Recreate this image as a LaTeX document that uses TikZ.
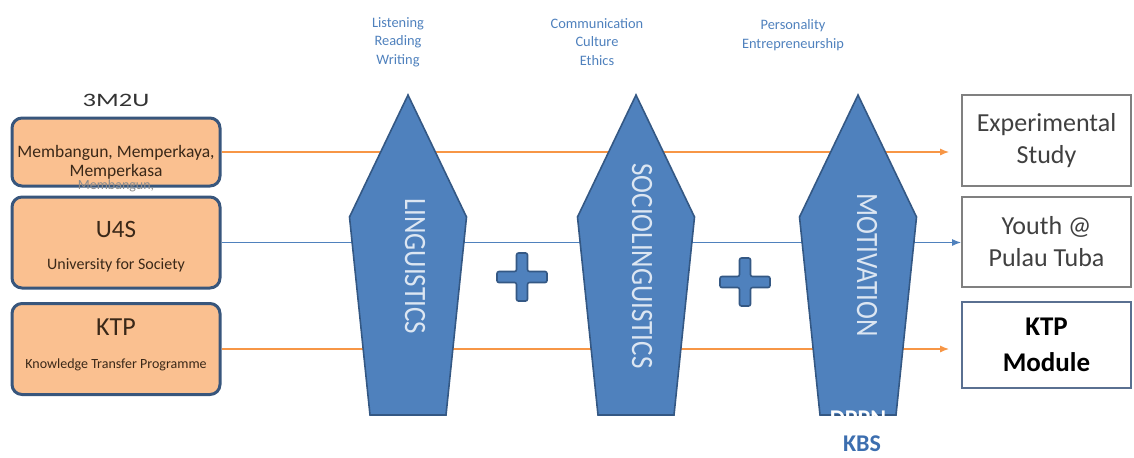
\documentclass[tikz,border=0pt]{standalone}
\usepackage{fontspec}
\setmainfont{Carlito}
\usepackage{graphicx}
\usepackage{xcolor}
\usetikzlibrary{arrows.meta}

\definecolor{boxorange}{RGB}{250,192,144}
\definecolor{boxedge}{RGB}{56,86,124}
\definecolor{textbrown}{RGB}{58,40,24}
\definecolor{penfill}{RGB}{79,129,189}
\definecolor{penedge}{RGB}{52,88,132}
\definecolor{lineorange}{RGB}{247,150,70}
\definecolor{labelblue}{RGB}{79,129,189}
\definecolor{pentext}{RGB}{220,230,242}
\definecolor{kbsblue}{RGB}{60,110,175}

\begin{document}
\begin{tikzpicture}[x=0.5pt,y=-0.5pt,
        leftbox/.style={draw=boxedge, fill=boxorange, line width=1.5pt, rounded corners=5pt, minimum width=104pt, inner sep=0pt},
        rightbox/.style={draw=black!50, line width=0.8pt, minimum width=84.5pt, inner sep=0pt, align=center, text=black!75, font=\fontsize{13}{16}\selectfont},
        boxtext/.style={text=textbrown, inner sep=0pt},
        toplabel/.style={text=labelblue, align=center, font=\fontsize{7.2}{9.3}\selectfont},
        pentagon/.style={fill=penfill, draw=penedge, line width=0.8pt},
        pentext/.style={rotate=-90, text=pentext, inner sep=0pt, font=\fontsize{13.5}{16}\selectfont},
        flow/.style={line width=0.75pt, -{Latex[length=4.5pt,width=3.5pt]}}
        ]
            \useasboundingbox (0,0) rectangle (1134,457);

            % left boxes
            \node[leftbox, minimum height=34pt] (lb1) at (116,152) {};
            \node[text=black!80, inner sep=0pt, font=\fontsize{9.5}{11}\selectfont] (t3m2u) at (116,100) {\scalebox{1.4}[1]{3M2U}};
            \node[boxtext, font=\fontsize{8.75}{10}\selectfont] (m1) at (116,153) {Membangun, Memperkaya,};
            \node[boxtext, font=\fontsize{8.75}{10}\selectfont] (m2) at (116,172) {Memperkasa};
            \node[text=black!45, inner sep=0pt, font=\fontsize{7}{8}\selectfont] (m3) at (116,186) {Membangun,};
            \node[leftbox, minimum height=45.5pt] (lb2) at (116,242.5) {};
            \node[boxtext, font=\fontsize{12.5}{14}\selectfont] (u4s) at (116,229) {U4S};
            \node[boxtext, font=\fontsize{8}{9}\selectfont] (u4sfull) at (116,265) {University for Society};
            \node[leftbox, minimum height=45.5pt] (lb3) at (116,349) {};
            \node[boxtext, font=\fontsize{13}{15}\selectfont] (ktp) at (116,327) {KTP};
            \node[boxtext, font=\fontsize{7}{8}\selectfont] (ktpfull) at (116,365) {Knowledge Transfer Programme};

            % right boxes
            \node[rightbox, minimum height=45.5pt] (rb1) at (1046.5,140.5) {Experimental\\Study};
            \node[rightbox, minimum height=45pt] (rb2) at (1046.5,242) {Youth @\\Pulau Tuba};
            \node[rightbox, draw={rgb,255:red,90;green,112;blue,145}, minimum height=43pt, text=black, font=\fontsize{13.5}{18}\selectfont\bfseries] (rb3) at (1046.5,345) {KTP\\Module};

            % flows
            \draw[flow, draw=lineorange, fill=lineorange] (lb1.east) -- ([xshift=-6pt]lb1.east -| rb1.west);
            \draw[flow, draw=labelblue, fill=labelblue] (lb2.east) -- (lb2.east -| rb2.west);
            \draw[flow, draw=lineorange, fill=lineorange] (lb3.east) -- ([xshift=-6pt]lb3.east -| rb3.west);

            % pentagons
            \foreach \c in {408,636,858}
                \draw[pentagon] (\c,95) -- (\c+58.5,217) -- (\c+38,415) -- (\c-38,415) -- (\c-58.5,217) -- cycle;
            \node[pentext] (ling) at (415,266) {\scalebox{1}[1.15]{LINGUISTICS}};
            \node[pentext] (socio) at (642,266) {\scalebox{1}[1.15]{SOCIOLINGUISTICS}};
            \node[pentext] (motiv) at (867,265) {\scalebox{1}[1.15]{MOTIVATION}};

            % plus signs
            \foreach \x/\y in {522/277,745/282}
                \draw[pentagon, rounded corners=1pt] (\x-5.5,\y-24) -- (\x+5.5,\y-24) -- (\x+5.5,\y-5.5) -- (\x+25,\y-5.5) -- (\x+25,\y+5.5) -- (\x+5.5,\y+5.5) -- (\x+5.5,\y+24) -- (\x-5.5,\y+24) -- (\x-5.5,\y+5.5) -- (\x-25,\y+5.5) -- (\x-25,\y-5.5) -- (\x-5.5,\y-5.5) -- cycle;

            % top labels
            \node[toplabel] (lrw) at (398,42) {Listening\\Reading\\Writing};
            \node[toplabel] (cce) at (597,42) {Communication\\Culture\\Ethics};
            \node[toplabel] (pe) at (793,35) {Personality\\Entrepreneurship};

            % bottom labels
            \node[text=white, inner sep=0pt, font=\fontsize{12}{14}\selectfont\bfseries] (dppn) at (858,419) {DPPN};
            \node[text=kbsblue, inner sep=0pt, font=\fontsize{12}{14}\selectfont\bfseries] (kbs) at (862,444) {KBS};

        \end{tikzpicture}
\end{document}
